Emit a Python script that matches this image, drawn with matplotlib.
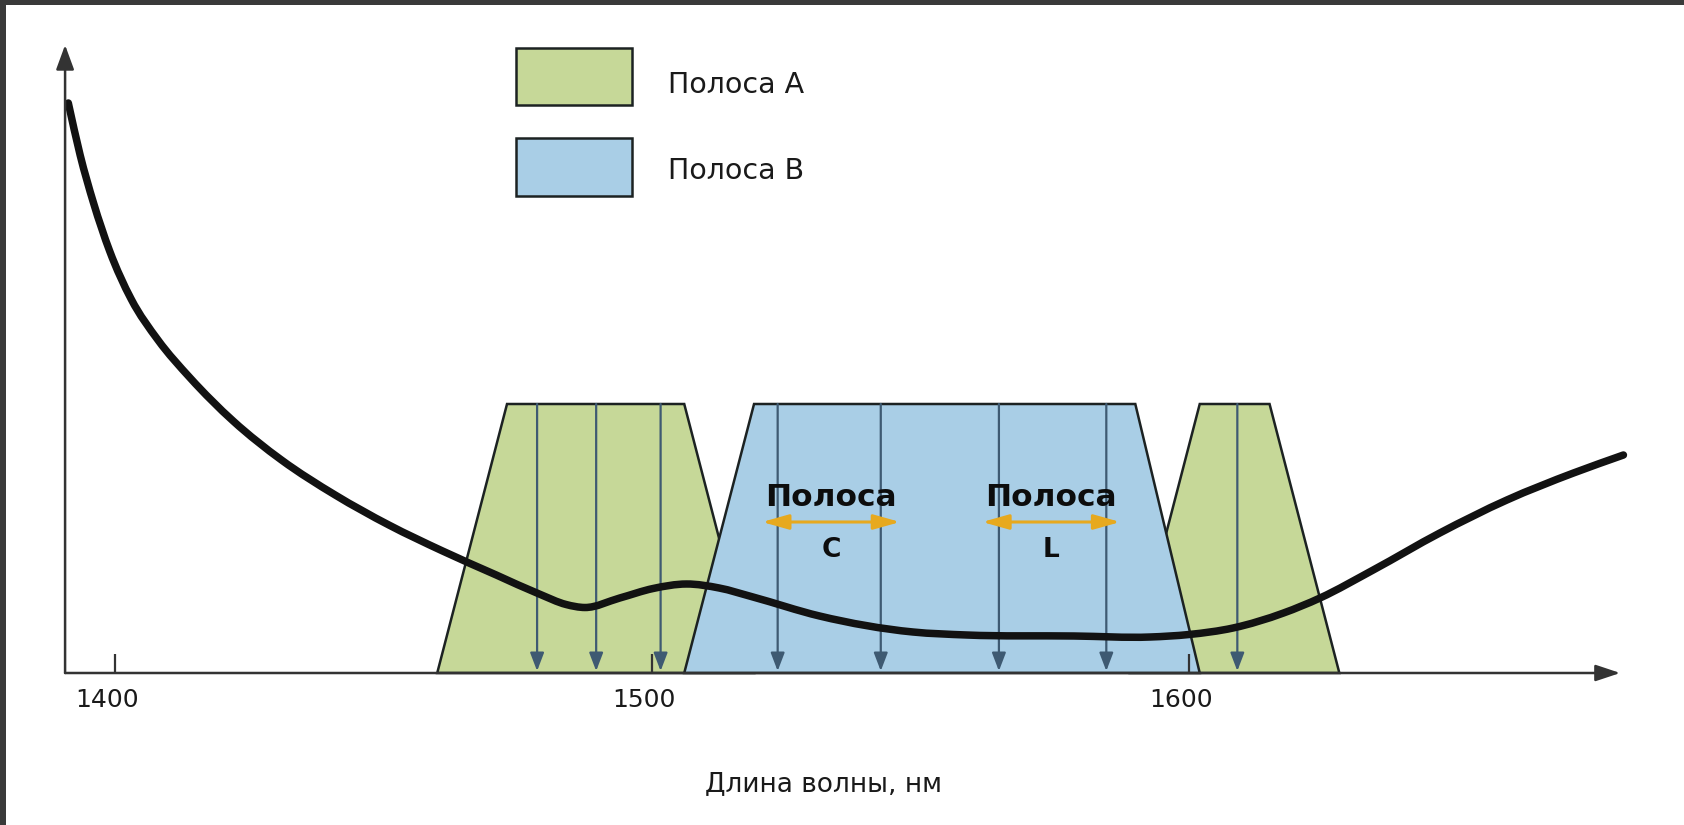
import matplotlib
matplotlib.use("Agg")
import matplotlib.pyplot as plt
from matplotlib.patches import Polygon, Rectangle, FancyArrowPatch, PathPatch
from matplotlib.path import Path

# ---------------- data ----------------
# attenuation curve (wavelength nm, relative attenuation)
curve_nm = [1391.3, 1393.5, 1396.0, 1399.0, 1403.0, 1408.0, 1414.0, 1422.0, 1431.0,
            1441.0, 1451.0, 1461.0, 1471.0, 1479.0, 1484.0, 1487.5, 1494.0, 1500.2,
            1506.4, 1512.5, 1518.8, 1531.2, 1548.6, 1558.6, 1578.6, 1592.8, 1600.0,
            1608.2, 1617.6, 1624.4, 1634.3, 1646.7, 1659.2, 1671.6, 1680.9]
curve_val = [5.70, 5.18, 4.70, 4.22, 3.74, 3.33, 2.95, 2.52, 2.13,
             1.78, 1.48, 1.22, 0.98, 0.79, 0.685, 0.655, 0.75, 0.845,
             0.89, 0.85, 0.76, 0.57, 0.41, 0.38, 0.37, 0.36, 0.385,
             0.45, 0.60, 0.75, 1.03, 1.40, 1.73, 2.00, 2.18]

# band trapezoids: (bottom-left, top-left, top-right, bottom-right) in nm
band_a1_nm = [1460, 1473, 1506, 1519]
band_b_nm = [1506, 1519, 1590, 1602]
band_a2_nm = [1589, 1602, 1615, 1628]
band_profile = [0.0, 2.69, 2.69, 0.0]

# channel wavelengths (vertical arrows)
channels_nm = [1478.6, 1489.6, 1501.6, 1523.4, 1542.6, 1564.6, 1584.6, 1609.0]

tick_values = [1400, 1500, 1600]
tick_labels = ["1400", "1500", "1600"]

legend_labels = ["Полоса A", "Полоса B"]
sub_band_labels = ["C", "L"]
sub_band_ranges = [(1520.5, 1546.2), (1561.5, 1587.2)]
x_label = "Длина волны, нм"

# ---------------- style ----------------
GREEN = "#c6d898"
BLUE = "#a9cee6"
EDGE = "#1c2222"
ARROW = "#3e5a72"
ORANGE = "#e7a91e"
AXIS = "#333333"
FRAME = "#3a3a3a"

W, H = 1684, 825
fig = plt.figure(figsize=(W / 100, H / 100), dpi=100)
fig.patch.set_facecolor("white")
ax = fig.add_axes([0, 0, 1, 1])
ax.set_xlim(1378.58, 1692.18)
ax.set_ylim(-1.52, 6.73)
ax.axis("off")

# bands
for xs, col, z in [(band_a1_nm, GREEN, 1), (band_a2_nm, GREEN, 1), (band_b_nm, BLUE, 2)]:
    ax.add_patch(Polygon(list(zip(xs, band_profile)), closed=True, facecolor=col,
                         edgecolor=EDGE, lw=1.8, zorder=z))

# channel arrows
top = max(band_profile)
for c in channels_nm:
    ax.add_patch(FancyArrowPatch((c, top), (c, 0.02), arrowstyle="-|>,head_length=1.1,head_width=0.42",
                                 mutation_scale=10, color=ARROW, lw=1.6, shrinkA=0, shrinkB=0, zorder=3))


# attenuation curve drawn as a smooth cubic (Hermite -> Bezier) path through the data points
def smooth_path(xs, ys):
    n = len(xs)
    h = [xs[i + 1] - xs[i] for i in range(n - 1)]
    s = [(ys[i + 1] - ys[i]) / h[i] for i in range(n - 1)]
    m = [0.0] * n
    m[0] = s[0]
    m[-1] = s[-1]
    for i in range(1, n - 1):
        m[i] = (s[i] * h[i - 1] + s[i - 1] * h[i]) / (h[i - 1] + h[i])
    verts = [(xs[0], ys[0])]
    codes = [Path.MOVETO]
    for i in range(n - 1):
        d = h[i] / 3
        verts += [(xs[i] + d, ys[i] + m[i] * d), (xs[i + 1] - d, ys[i + 1] - m[i + 1] * d),
                  (xs[i + 1], ys[i + 1])]
        codes += [Path.CURVE4] * 3
    return Path(verts, codes)


ax.add_patch(PathPatch(smooth_path(curve_nm, curve_val), facecolor="none", edgecolor="#121212",
                       lw=5.4, capstyle="round", joinstyle="round", zorder=5))

# axes with arrows
y_axis_x = 1390.7
ax.add_patch(FancyArrowPatch((y_axis_x, 0), (y_axis_x, 6.28), arrowstyle="-|>,head_length=1.5,head_width=0.55",
                             mutation_scale=10, color=AXIS, lw=1.8, shrinkA=0, shrinkB=0, zorder=6))
ax.add_patch(FancyArrowPatch((y_axis_x, 0), (1680.3, 0), arrowstyle="-|>,head_length=1.5,head_width=0.5",
                             mutation_scale=10, color=AXIS, lw=1.8, shrinkA=0, shrinkB=0, zorder=6))
ax.vlines(tick_values, 0, 0.19, color=AXIS, lw=1.6, zorder=6)
for t, lab in zip(tick_values, tick_labels):
    ax.text(t - 1.5, -0.27, lab, ha="center", va="center", fontsize=18, color="#1a1a1a",
            family="DejaVu Sans", zorder=7)

ax.text(1532.0, -1.11, x_label, ha="center", va="center", fontsize=19, color="#1a1a1a",
        family="DejaVu Sans")

# sub-band C / L labels
for (x0, x1), lab in zip(sub_band_ranges, sub_band_labels):
    xc = (x0 + x1) / 2
    ax.add_patch(FancyArrowPatch((x0, 1.51), (x1, 1.51), arrowstyle="<|-|>,head_length=1.6,head_width=0.45",
                                 mutation_scale=10, color=ORANGE, lw=2.2, shrinkA=0, shrinkB=0, zorder=8))
    ax.text(xc, 1.76, "Полоса", ha="center", va="center", fontsize=22.5, fontweight="bold",
            color="#0d0d0d", family="DejaVu Sans", zorder=9)
    ax.text(xc, 1.23, lab, ha="center", va="center", fontsize=19, fontweight="bold",
            color="#0d0d0d", family="DejaVu Sans", zorder=9)


# legend (figure-pixel layout)
def fx(px):
    return px / W


def fy(py):
    return 1 - py / H


for (y0, y1), ty, col, lab in zip([(48, 105), (138, 196)], [85, 171], [GREEN, BLUE], legend_labels):
    fig.add_artist(Rectangle((fx(516), fy(y1)), fx(632) - fx(516), fy(y0) - fy(y1),
                             transform=fig.transFigure, facecolor=col, edgecolor=EDGE, lw=1.8))
    fig.text(fx(668), fy(ty), lab, ha="left", va="center", fontsize=20.5,
             color="#1a1a1a", family="DejaVu Sans")

# dark frame on top and left
fig.add_artist(Rectangle((0, fy(5)), 1, fy(0) - fy(5), transform=fig.transFigure,
                         facecolor=FRAME, edgecolor="none"))
fig.add_artist(Rectangle((0, 0), fx(6), 1, transform=fig.transFigure,
                         facecolor=FRAME, edgecolor="none"))

fig.savefig("out.png", dpi=100, facecolor="white")
